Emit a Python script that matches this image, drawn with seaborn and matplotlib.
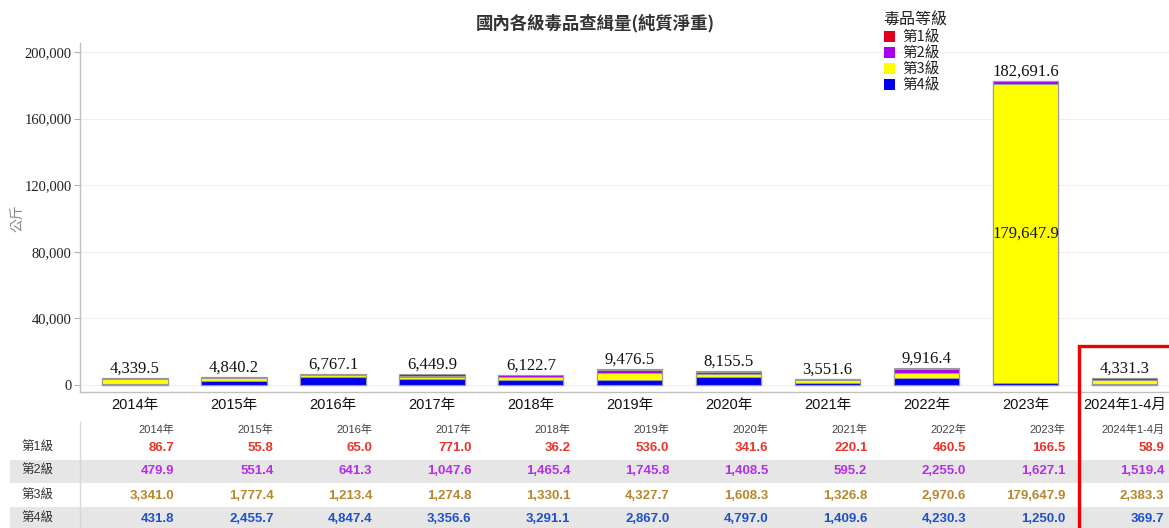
import numpy as np
import pandas as pd
import matplotlib
matplotlib.use("Agg")
import matplotlib.pyplot as plt
import matplotlib.transforms as mtransforms
from matplotlib.patches import Patch, Rectangle
import seaborn as sns

# ---------------- data ----------------
categories = ["2014年", "2015年", "2016年", "2017年", "2018年", "2019年",
              "2020年", "2021年", "2022年", "2023年", "2024年1-4月"]
level1 = [86.7, 55.8, 65.0, 771.0, 36.2, 536.0, 341.6, 220.1, 460.5, 166.5, 58.9]
level2 = [479.9, 551.4, 641.3, 1047.6, 1465.4, 1745.8, 1408.5, 595.2, 2255.0, 1627.1, 1519.4]
level3 = [3341.0, 1777.4, 1213.4, 1274.8, 1330.1, 4327.7, 1608.3, 1326.8, 2970.6, 179647.9, 2383.3]
level4 = [431.8, 2455.7, 4847.4, 3356.6, 3291.1, 2867.0, 4797.0, 1409.6, 4230.3, 1250.0, 369.7]
totals = [4339.5, 4840.2, 6767.1, 6449.9, 6122.7, 9476.5, 8155.5, 3551.6, 9916.4, 182691.6, 4331.3]
level_names = ["第1級", "第2級", "第3級", "第4級"]
title = "國內各級毒品查緝量(純質淨重)"
legend_title = "毒品等級"
y_label = "公斤"
y_ticks = [0, 40000, 80000, 120000, 160000, 200000]

bar_colors = ["#e0001b", "#a800f0", "#ffff00", "#0000f0"]
table_colors = ["#e8352b", "#b52ee8", "#b8862d", "#1e50c8"]

df = pd.DataFrame({"cat": categories, "l1": level1, "l2": level2,
                   "l3": level3, "l4": level4})
df["c4"] = df["l4"]
df["c3"] = df["c4"] + df["l3"]
df["c2"] = df["c3"] + df["l2"]
df["c1"] = df["c2"] + df["l1"]

# ---------------- style ----------------
sns.set_theme(style="white")
plt.rcParams["font.family"] = ["Noto Sans CJK TC", "DejaVu Sans"]

fig = plt.figure(figsize=(11.69, 5.28), dpi=100)
ax = fig.add_axes([80 / 1169, 136 / 528, 1094 / 1169, 349 / 528])

# stacked bars: draw cumulative layers from the top down
for col, color in zip(["c1", "c2", "c3", "c4"], bar_colors):
    sns.barplot(data=df, x="cat", y=col, color=color, width=0.66,
                edgecolor="#9a9a9a", linewidth=0.8, saturation=1,
                ax=ax, order=categories, errorbar=None)

n = len(categories)
ax.set_xlim(-0.556, n - 0.5)
ax.set_ylim(-4200, 205400)
ax.set_yticks(y_ticks)
ax.set_yticklabels([f"{v:,.0f}" for v in y_ticks],
                   fontfamily="Liberation Serif", fontsize=10.5, color="#222222")
ax.set_xticks(range(n))
ax.set_xticklabels(categories, fontfamily=["Liberation Sans", "Noto Sans CJK TC"],
                   fontsize=10.5, color="#111111")
ax.set_xticks(np.arange(n) + 0.5, minor=True)
ax.tick_params(axis="x", which="major", length=0, pad=4)
ax.tick_params(axis="x", which="minor", length=5, color="#b0b0b0", width=0.8)
ax.tick_params(axis="y", which="major", length=4, color="#b0b0b0", width=0.8, left=True, pad=2)
ax.set_xlabel("")
ax.set_ylabel("")
fig.text(18 / 1169, (528 - 218) / 528, y_label, rotation=90, ha="center",
         va="center", color="#888888", fontsize=10)
ax.yaxis.grid(True, color="#eeeeee", linewidth=0.8)
ax.set_axisbelow(True)
for s in ["top", "right"]:
    ax.spines[s].set_visible(False)
for s in ["left", "bottom"]:
    ax.spines[s].set_color("#c0c0c0")
    ax.spines[s].set_linewidth(1.0)

# total labels above bars
for i, (t, c) in enumerate(zip(totals, df["c1"])):
    ax.annotate(f"{t:,.1f}", (i, c), xytext=(0, 1), textcoords="offset points",
                ha="center", va="bottom", fontfamily="Liberation Serif",
                fontsize=12, color="#111111")
# big inner label for the dominant segment
imax = int(np.argmax(level3))
ax.text(imax, df["c4"][imax] + level3[imax] / 2, f"{level3[imax]:,.1f}",
        ha="center", va="center", fontfamily="Liberation Serif", fontsize=12,
        color="#111111")

# title
fig.text(0.509, 0.957, title, ha="center", va="center", fontsize=12.5,
         fontweight="bold", color="#333333")

# legend
handles = [Patch(facecolor=c, edgecolor="none") for c in bar_colors]
leg = fig.legend(handles, level_names, title=legend_title,
                 loc="upper left", bbox_to_anchor=(872 / 1169, 1.0),
                 frameon=False, fontsize=10.5, title_fontsize=11.5,
                 handlelength=0.75, handleheight=0.75, handletextpad=0.5,
                 labelspacing=0.12, borderpad=0.3)
leg._legend_box.align = "left"
for t in leg.get_texts():
    t.set_color("#222222")
leg.get_title().set_color("#222222")

# ---------------- data table ----------------
trans = mtransforms.blended_transform_factory(ax.transData, fig.transFigure)
row_y = [448, 471, 496, 519]
header_y = 430
band_rows = [(460, 483), (507, 528)]
for (y0, y1) in band_rows:
    fig.patches.append(Rectangle((10 / 1169, (528 - y1) / 528), 1.0, (y1 - y0) / 528,
                                 transform=fig.transFigure, facecolor="#e6e6e6",
                                 edgecolor="none", zorder=0))
fig.add_artist(plt.Line2D([80 / 1169, 80 / 1169], [0, (528 - 422) / 528],
                          transform=fig.transFigure, color="#d8d8d8", lw=1.0))
for i, cat in enumerate(categories):
    fig.text(i + 0.40, (528 - header_y) / 528, cat, transform=trans,
             ha="right", va="center", fontsize=8,
             fontfamily=["Liberation Sans", "Noto Sans CJK TC"], color="#444444")
series = [level1, level2, level3, level4]
for r, (vals, color, name) in enumerate(zip(series, table_colors, level_names)):
    yf = (528 - row_y[r]) / 528
    fig.text(37 / 1169, yf, name, ha="center", va="center", fontsize=9,
             fontfamily=["Liberation Sans", "Noto Sans CJK TC"], color="#333333")
    for i, v in enumerate(vals):
        fig.text(i + 0.40, yf, f"{v:,.1f}", transform=trans, ha="right",
                 va="center", fontsize=9.5, fontweight="bold",
                 fontfamily="Liberation Sans", color=color)

# highlight box around the latest period
fig.patches.append(Rectangle((1079 / 1169, -0.01), 0.2, (528 - 346) / 528 + 0.01,
                             transform=fig.transFigure, facecolor="none",
                             edgecolor="#ee0000", linewidth=2.4, zorder=5))

fig.savefig("out.png", dpi=100)
